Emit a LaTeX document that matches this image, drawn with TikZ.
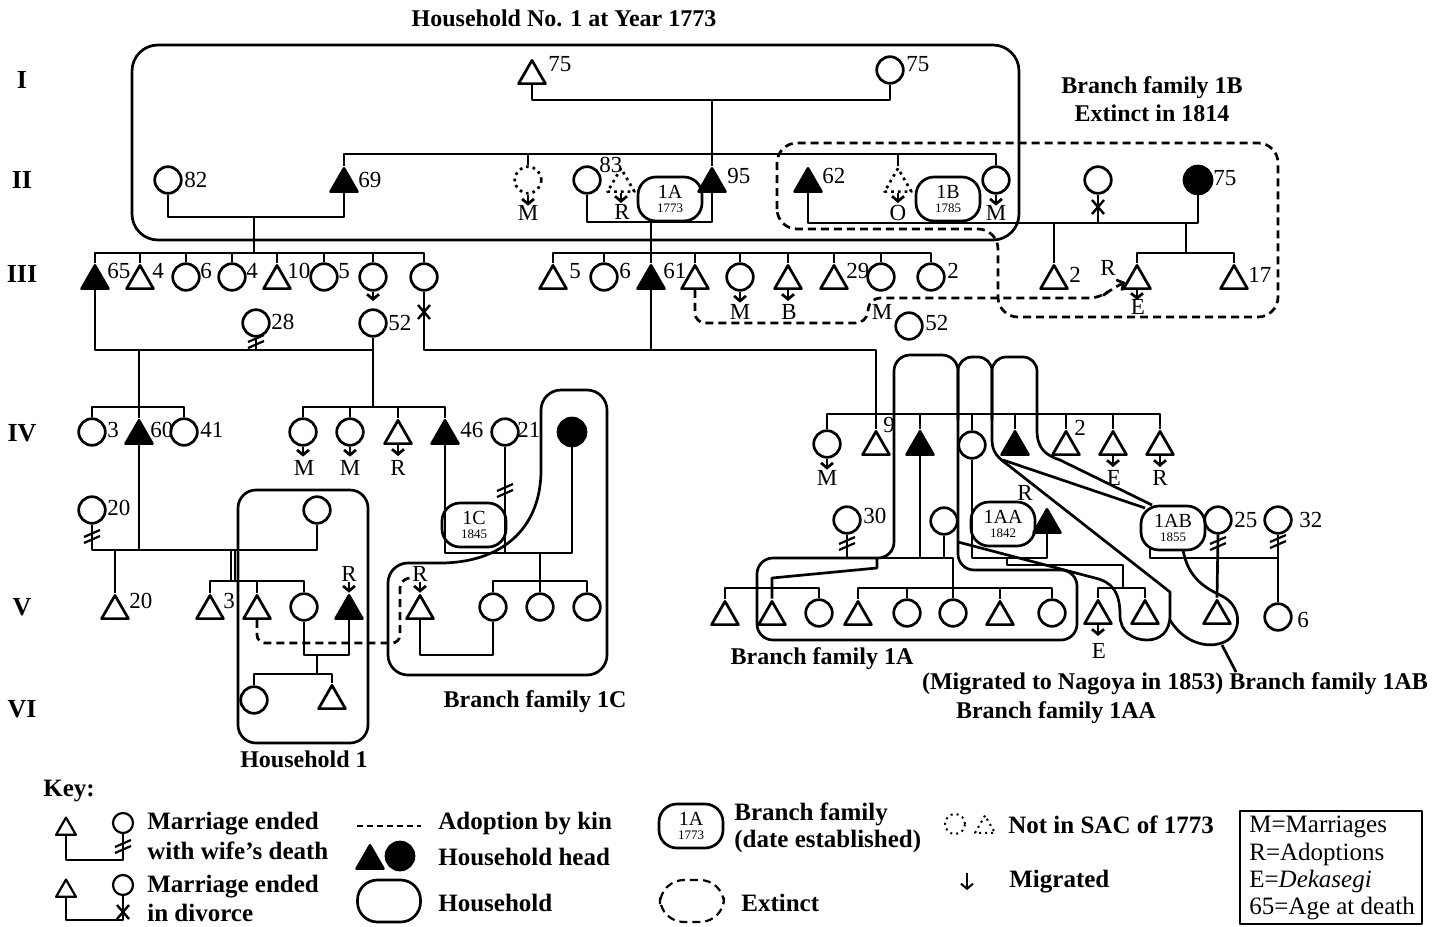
\documentclass[tikz,border=0pt]{standalone}
\usepackage{fontspec}
\setmainfont{Liberation Serif}
\usetikzlibrary{shapes.geometric,arrows.meta}
\newcommand{\dslash}[2]{\draw[shift={(#1,#2)},line width=1.1pt] (-8,2)--(8,-5) (-8,8)--(8,1);}
\newcommand{\divx}[2]{\draw[shift={(#1,#2)},line width=1.2pt] (-6,-7)--(6,7) (-6,7)--(6,-7);}
\begin{document}
\begin{tikzpicture}[x=0.5pt,y=-0.5pt,line width=1.35pt,line join=round,
  fem/.style={circle,draw,minimum size=13.3pt,inner sep=0pt},
  mal/.style={regular polygon,regular polygon sides=3,draw,minimum size=15.5pt,inner sep=0pt,yshift=-1.94pt},
  head/.style={fill=black},
  notin/.style={dotted},
  age/.style={anchor=west,inner sep=0pt,font=\fontsize{11.5}{12}\selectfont},
  ltr/.style={inner sep=0pt,font=\fontsize{11.5}{12}\selectfont},
  blab/.style={inner sep=0pt,font=\fontsize{12}{14}\selectfont\bfseries,align=center},
  klab/.style={anchor=west,inner sep=0pt,font=\fontsize{12.5}{14}\selectfont\bfseries},
  rowl/.style={inner sep=0pt,font=\fontsize{13}{14}\selectfont\bfseries},
  mig/.style={-{Straight Barb[length=2.5pt,width=6pt]}},
  hbox/.style={draw,rounded corners=9pt,minimum width=32pt,minimum height=22pt,inner sep=0pt,align=center,font=\fontsize{10}{8}\selectfont},
  ext/.style={dash pattern=on 4pt off 2.5pt,rounded corners=10pt},
  adopt/.style={dash pattern=on 4pt off 2.5pt},
  hh/.style={rounded corners=9pt}
]
\useasboundingbox (0,0) rectangle (1444,926);
\coordinate (b154) at (0,154);
\coordinate (b253) at (0,253);
\coordinate (b407) at (0,407);
\coordinate (b414) at (0,414);
\coordinate (b581) at (0,581);
\coordinate (b588) at (0,588);

% ---------- titles and row labels
\node[blab] (title) at (564,18) {Household No. 1 at Year 1773};
\node[blab] (t1B) at (1152,99) {Branch family 1B\\Extinct in 1814};
\node[rowl] (r1) at (22,80) {I};
\node[rowl] (r2) at (22,180) {II};
\node[rowl] (r3) at (22,274) {III};
\node[rowl] (r4) at (22,433) {IV};
\node[rowl] (r5) at (22,607) {V};
\node[rowl] (r6) at (22,709) {VI};

% ---------- household No. 1 box
\draw[rounded corners=13pt] (132,45) rectangle (1019,240);

% ---------- generation I
\node[mal] (I1) at (532,72) {};
\node[fem] (I2) at (890,70) {};
\node[age] at (547,64) {75};
\node[age] at (905,64) {75};
\coordinate (mI) at (712,100);
\draw (I1.south) |- (mI) -| (I2.south);
\draw (mI) -- (712,154);

% ---------- generation II
\node[fem] (IIa) at (168,180) {};
\node[mal,head] (IIb) at (344,180) {};
\node[fem,notin] (IIc) at (528,180) {};
\node[fem] (IId) at (587,180) {};
\node[mal,notin] (IIe) at (621,180) {};
\node[mal,head] (IIf) at (712,180) {};
\node[hbox] (B1A) at (670,199) {1A\\[-1pt]{\fontsize{6.5}{7}\selectfont 1773}};
\node[mal,head] (IIg) at (808,180) {};
\node[mal,notin] (IIh) at (898,180) {};
\node[hbox] (B1B) at (948,199) {1B\\[-1pt]{\fontsize{6.5}{7}\selectfont 1785}};
\node[fem] (IIi) at (996,180) {};
\node[fem] (IIj) at (1098,180) {};
\node[fem,head,minimum size=14pt] (IIk) at (1198,180) {};
\node[age] at (183,180) {82};
\node[age] at (357,180) {69};
\node[age] at (598,165) {83};
\node[age] at (726,176) {95};
\node[age] at (821,176) {62};
\node[age] at (1212,178) {75};
\draw (IIb.north) -- (IIb.north |- b154) -- (IIi.north |- b154) -- (IIi.north);
\foreach \n in {IIc,IIf,IIh} \draw (\n.north) -- (\n.north |- b154);
\draw[mig] (IIc.south) -- ++(0,11);
\draw[mig] (IIe.south) -- ++(0,10);
\draw[mig] (IIh.south) -- ++(0,10);
\draw[mig] (IIi.south) -- ++(0,11);
\node[ltr] at (528,213) {M};
\node[ltr] at (622,212) {R};
\node[ltr] at (898,213) {O};
\node[ltr] at (996,213) {M};
\coordinate (mIIa) at (254,217);
\draw (IIa.south) |- (mIIa) -| (IIb.south);
\draw (mIIa) -- (254,253);
\coordinate (mIId) at (651,222);
\draw (IId.south) |- (mIId) -| (IIf.south);
\coordinate (mIIg) at (1198,223);
\draw (IIg.south) |- (mIIg) -- (IIk.south);
\draw (IIj.south) -- (IIj.south |- mIIg);
\divx{1098}{207}

% ---------- generation III
\node[mal,head] (IIIa) at (95,277) {};
\node[mal] (IIIb) at (140,277) {};
\node[fem] (IIIc) at (186,277) {};
\node[fem] (IIId) at (232,277) {};
\node[mal] (IIIe) at (277,277) {};
\node[fem] (IIIf) at (324,277) {};
\node[fem] (IIIg) at (373,277) {};
\node[fem] (IIIh) at (424,277) {};
\draw (IIIa.north) -- (IIIa.north |- b253) -- (IIIh.north |- b253) -- (IIIh.north);
\foreach \n in {IIIb,IIIc,IIId,IIIe,IIIf,IIIg} \draw (\n.north) -- (\n.north |- b253);
\node[age] at (106,271) {65};
\node[age] at (151,271) {4};
\node[age] at (199,271) {6};
\node[age] at (245,271) {4};
\node[age] at (286,271) {10};
\node[age] at (337,271) {5};

\node[mal] (IIIi) at (553,277) {};
\node[fem] (IIIj) at (604,277) {};
\node[mal,head] (IIIk) at (651,277) {};
\node[mal] (IIIl) at (695,277) {};
\node[fem] (IIIm) at (740,277) {};
\node[mal] (IIIn) at (788,277) {};
\node[mal] (IIIo) at (834,277) {};
\node[fem] (IIIp) at (881,277) {};
\node[fem] (IIIq) at (931,277) {};
\draw (IIIi.north) -- (IIIi.north |- b253) -- (IIIq.north |- b253) -- (IIIq.north);
\foreach \n in {IIIj,IIIl,IIIm,IIIn,IIIo,IIIp} \draw (\n.north) -- (\n.north |- b253);
\draw (mIId) -- (IIIk.north);
\node[age] at (568,271) {5};
\node[age] at (618,271) {6};
\node[age] at (662,271) {61};
\node[age] at (845,271) {29};
\node[age] at (946,271) {2};
\draw[mig] (IIIm.south) -- ++(0,11);
\draw[mig] (IIIn.south) -- ++(0,11);
\node[ltr] at (740,312) {M};
\node[ltr] at (789,312) {B};
\node[ltr] at (882,312) {M};

\node[mal] (IIIr) at (1054,277) {};
\node[mal] (IIIs) at (1137,277) {};
\node[mal] (IIIt) at (1234,277) {};
\draw (1054,223) -- (IIIr.north);
\draw (1186,223) -- (1186,253);
\draw (IIIs.north) -- (IIIs.north |- b253) -- (IIIt.north |- b253) -- (IIIt.north);
\node[age] at (1068,275) {2};
\node[age] at (1247,275) {17};
\draw[mig] (IIIs.south) -- ++(0,10);
\node[ltr] at (1138,307) {E};
\node[ltr] at (1108,268) {R};

% extinct branch 1B
\draw[ext] (777,190) -- (777,143) -- (1278,143) -- (1278,317) -- (998,317) -- (998,229) -- (777,229) -- cycle;
% adoption by kin (generation III)
\draw[adopt,mig,rounded corners=5pt] (IIIl.south) -- (695,323) -- (866,323) -- (870,298) -- (1100,298) -- (1110,290) -- (1125,282);

% ---------- spouses between III and IV
\node[fem] (W28) at (256,323) {};
\node[fem] (W52) at (373,323) {};
\node[fem] (W52b) at (909,326) {};
\node[age] at (270,322) {28};
\node[age] at (387,323) {52};
\node[age] at (924,323) {52};
\draw[mig] (IIIg.south) -- (373,301);
\draw (IIIa.south) |- (373,350) -- (W52.south);
\draw (W28.south) -- (256,350);
\dslash{256}{340}
\draw (IIIh.south) |- (876,350) -- (876,414);
\draw (IIIk.south) -- (651,350);
\divx{424}{312}

% ---------- generation IV (left)
\node[fem] (IVa) at (92,432) {};
\node[mal,head] (IVb) at (139,432) {};
\node[fem] (IVc) at (184,432) {};
\draw (139,350) -- (IVb.north);
\draw (IVa.north) -- (IVa.north |- b407) -- (IVc.north |- b407) -- (IVc.north);
\node[age] at (106,430) {3};
\node[age] at (149,430) {60};
\node[age] at (199,430) {41};

\node[fem] (IVd) at (303,432) {};
\node[fem] (IVe) at (350,432) {};
\node[mal] (IVf) at (398,432) {};
\node[mal,head] (IVg) at (445,432) {};
\draw (373,350) -- (373,407);
\draw (IVd.north) -- (IVd.north |- b407) -- (IVg.north |- b407) -- (IVg.north);
\foreach \n in {IVe,IVf} \draw (\n.north) -- (\n.north |- b407);
\draw[mig] (IVd.south) -- ++(0,10);
\draw[mig] (IVe.south) -- ++(0,10);
\draw[mig] (IVf.south) -- ++(0,11);
\node[ltr] at (304,468) {M};
\node[ltr] at (350,468) {M};
\node[ltr] at (398,468) {R};
\node[age] at (459,430) {46};

\node[fem] (IVh) at (505,432) {};
\node[fem,head,minimum size=14pt] (IVi) at (572,432) {};
\node[age] at (516,430) {21};

% ---------- generation IV (right)
\node[fem] (IVj) at (827,444) {};
\node[mal] (IVk) at (876,443) {};
\node[mal,head] (IVl) at (920,443) {};
\node[fem] (IVm) at (972,445) {};
\node[mal,head] (IVn) at (1015,443) {};
\node[mal] (IVo) at (1066,443) {};
\node[mal] (IVp) at (1113,443) {};
\node[mal] (IVq) at (1160,443) {};
\draw (IVj.north) -- (IVj.north |- b414) -- (IVq.north |- b414) -- (IVq.north);
\foreach \n in {IVk,IVl,IVm,IVn,IVo,IVp} \draw (\n.north) -- (\n.north |- b414);
\draw[mig] (IVj.south) -- ++(0,11);
\draw[mig] (IVp.south) -- ++(0,11);
\draw[mig] (IVq.south) -- ++(0,11);
\node[ltr] at (827,478) {M};
\node[ltr] at (1114,478) {E};
\node[ltr] at (1160,478) {R};
\node[age] at (882,425) {9};
\node[age] at (1073,428) {2};

% ---------- left: generation V and VI
\node[fem] (W20) at (92,510) {};
\node[fem] (H1w) at (317,510) {};
\node[age] at (106,508) {20};
\draw (W20.south) -- (92,550) -- (317,550) -- (H1w.south);
\draw (IVb.south) -- (139,550);
\dslash{92}{535}
\node[mal] (Va) at (115,607) {};
\node[mal] (Vb) at (210,607) {};
\node[mal] (Vc) at (257,607) {};
\node[fem] (Vd) at (304,607) {};
\node[mal,head] (Ve) at (349,607) {};
\node[mal] (Vf) at (420,607) {};
\node[fem] (Vg) at (493,607) {};
\node[fem] (Vh) at (540,607) {};
\node[fem] (Vi) at (587,607) {};
\node[age] at (128,601) {20};
\node[age] at (222,601) {3};
\draw (115,550) -- (Va.north);
\draw (231,550) -- (231,581);
\draw (235,550) -- (235,581);
\draw (Vb.north) -- (Vb.north |- b581) -- (Vd.north |- b581) -- (Vd.north);
\draw (Vc.north) -- (Vc.north |- b581);
\draw[mig] (349,582) -- (Ve.north);
\draw[mig] (420,582) -- (Vf.north);
\node[ltr] at (349,574) {R};
\node[ltr] at (420,574) {R};
\draw (Vd.south) |- (317,655) -| (Ve.south);
\node[fem] (VIa) at (254,700) {};
\node[mal] (VIb) at (332,697) {};
\draw (317,655) -- (317,674);
\draw (VIa.north) -- (VIa.north |- 0,674) -- (VIb.north |- 0,674) -- (VIb.north);
\draw[hh] (238,490) rectangle (368,743);
\node[blab] (tH1) at (304,759) {Household 1};
\draw[adopt,rounded corners=4pt] (Vc.south) -- (257,643) -- (400,643) -- (400,580) -- (410,578);

% branch family 1C
\draw (IVg.south) -- (445,553) -- (572,553) -- (IVi.south);
\draw (IVh.south) -- (505,553);
\dslash{505}{489}
\draw (540,553) -- (Vh.north);
\draw (Vg.north) -- (Vg.north |- b581) -- (Vi.north |- b581) -- (Vi.north);
\draw (Vf.south) |- (493,655) -- (Vg.south);
\node[hbox] (B1C) at (474,525) {1C\\[-1pt]{\fontsize{6.5}{7}\selectfont 1845}};
\draw[rounded corners=10pt] (541,470) -- (541,390) -- (607,390) -- (607,675) -- (388,675) -- (388,563) -- (440,563);
\draw (440,563) .. controls (500,563) and (541,530) .. (541,470);
\node[blab] (t1C) at (535,702) {Branch family 1C};

% ---------- right: generation V
\node[fem] (W30) at (847,520) {};
\node[fem] (W944) at (944,521) {};
\node[hbox] (B1AA) at (1003,524) {1AA\\[-1pt]{\fontsize{6.5}{7}\selectfont 1842}};
\node[mal,head] (H1AA) at (1047,521) {};
\node[hbox] (B1AB) at (1173,528) {1AB\\[-1pt]{\fontsize{6.5}{7}\selectfont 1855}};
\node[fem] (W25) at (1218,520) {};
\node[fem] (W32) at (1278,520) {};
\node[age] at (862,516) {30};
\node[age] at (1233,520) {25};
\node[age] at (1298,520) {32};
\node[ltr] at (1025,493) {R};

\node[mal] (Vj) at (725,613) {};
\node[mal] (Vk) at (772,613) {};
\node[fem] (Vl) at (819,613) {};
\node[mal] (Vm) at (858,613) {};
\node[fem] (Vn) at (907,613) {};
\node[fem] (Vo) at (953,613) {};
\node[mal] (Vp) at (1000,613) {};
\node[fem] (Vq) at (1052,613) {};
\node[mal] (Vr) at (1098,612) {};
\node[mal] (Vs) at (1145,612) {};
\node[mal] (Vt) at (1217,612) {};
\node[fem] (Vu) at (1278,617) {};
\node[age] at (1296,620) {6};

\draw (W30.south) -- (847,558) -- (953,558) -- (953,588);
\draw (IVl.south) -- (920,558);
\draw (W944.south) -- (944,558);
\dslash{847}{542}
\draw (877,558) -- (877,568) -- (772,578) -- (Vk.north);
\draw (Vj.north) -- (Vj.north |- b588) -- (Vl.north |- b588) -- (Vl.north);
\draw (Vm.north) -- (Vm.north |- b588) -- (Vq.north |- b588) -- (Vq.north);
\foreach \n in {Vn,Vo,Vp} \draw (\n.north) -- (\n.north |- b588);

\draw (IVm.south) -- (972,558) -- (1047,558) -- (H1AA.south);
\draw (1007,558) -- (1007,565) -- (1123,565) -- (1123,588);
\draw (Vr.north) -- (Vr.north |- b588) -- (Vs.north |- b588) -- (Vs.north);
\draw[mig] (Vr.south) -- ++(0,11);
\node[ltr] at (1099,651) {E};

\draw (1150,547) -- (1150,558) -- (1278,558);
\draw (W25.south) -- (Vt.north);
\dslash{1218}{542}
\draw (W32.south) -- (Vu.north);
\dslash{1278}{540}

% household boundaries 1A, 1AA, 1AB
\draw[rounded corners=8pt] (894,450) -- (894,355) -- (958,355) -- (958,570) -- (1077,570) -- (1077,640) -- (757,640) -- (757,558) -- (894,558) -- cycle;
\draw[rounded corners=7pt] (958,420) -- (958,357) -- (992,357) -- (992,440);
\draw (992,440) .. controls (992,452) and (998,458) .. (1008,465) -- (1170,592) -- (1170,615) .. controls (1170,632) and (1160,640) .. (1147,640) .. controls (1133,640) and (1120,632) .. (1120,615) .. controls (1120,592) and (1112,582) .. (1095,578) -- (958,542);
\draw (1003,460) -- (1145,508);
\draw[rounded corners=7pt] (992,420) -- (992,357) -- (1037,357) -- (1037,430);
\draw (1037,430) .. controls (1037,448) and (1045,455) .. (1060,460) -- (1152,505);
\draw (1183,550) .. controls (1188,578) and (1205,588) .. (1222,596) .. controls (1240,605) and (1243,628) .. (1228,640) .. controls (1212,650) and (1185,645) .. (1170,620);
\coordinate (lead) at (1236,672);
\draw (1222,645) -- (lead);

\node[blab] (t1A) at (822,659) {Branch family 1A};
\node[blab] (t1AB) at (1175,684) {(Migrated to Nagoya in 1853) Branch family 1AB};
\node[blab] (t1AA) at (1056,713) {Branch family 1AA};

% ---------- key
\node[klab] (kk) at (42,791) {Key:};
\node[mal,minimum size=11.5pt,yshift=0.4pt,line width=1.1pt] (k1t) at (66,826) {};
\node[fem,minimum size=10pt,line width=1.1pt] (k1c) at (123,823) {};
\draw[line width=1.1pt] (k1t.south) -- (66,860) -- (123,860) -- (k1c.south);
\dslash{123}{845}
\node[mal,minimum size=11.5pt,yshift=0.4pt,line width=1.1pt] (k2t) at (66,888) {};
\node[fem,minimum size=10pt,line width=1.1pt] (k2c) at (123,885) {};
\draw[line width=1.1pt] (k2t.south) -- (66,920) -- (123,920) -- (k2c.south);
\divx{123}{912}
\node[klab] at (146,824) {Marriage ended};
\node[klab] at (146,851) {with wife’s death};
\node[klab] at (146,887) {Marriage ended};
\node[klab] at (146,913) {in divorce};

\draw[line width=1pt,dash pattern=on 3pt off 2pt] (357,826) -- (421,826);
\node[klab] at (437,824) {Adoption by kin};
\node[mal,head] (k3t) at (370,857) {};
\node[fem,head,minimum size=14pt] (k3c) at (400,856) {};
\node[klab] at (437,857) {Household head};
\node[draw,rounded corners=10pt,minimum width=31.5pt,minimum height=21pt,inner sep=0pt] (k4) at (389,901) {};
\node[klab] at (437,903) {Household};

\node[hbox] (k5) at (691,826) {1A\\[-1pt]{\fontsize{6.5}{7}\selectfont 1773}};
\node[klab] at (733,814) {Branch family};
\node[klab] at (733,841) {(date established)};
\draw[ext,rounded corners=12pt,line width=1.1pt] (660,880) rectangle (724,922);
\node[klab] at (740,903) {Extinct};

\node[fem,notin,minimum size=10pt,line width=1pt] (k6c) at (955,824) {};
\node[mal,notin,minimum size=11.5pt,yshift=0.4pt,line width=1pt] (k6t) at (985,824) {};
\node[klab] at (1007,825) {Not in SAC of 1773};
\draw[mig,line width=1pt] (967,873) -- (967,890);
\node[klab] at (1008,882) {Migrated};

\draw[line width=1.3pt] (1240,811) rectangle (1422,924);
\node[anchor=north west,inner sep=0pt,align=left,font=\fontsize{12.5}{13.6}\selectfont] (kbox) at (1248,815) {M=Marriages\\R=Adoptions\\E=\textit{Dekasegi}\\65=Age at death};
\end{tikzpicture}
\end{document}
